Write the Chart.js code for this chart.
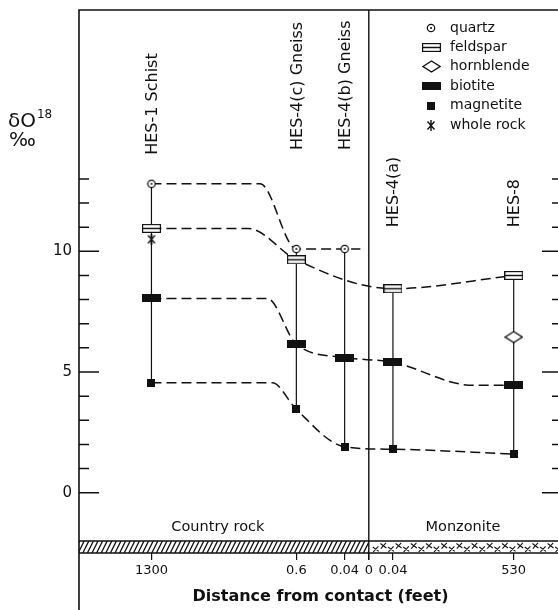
<!DOCTYPE html>
<html>
<head>
<meta charset="utf-8">
<script src="https://cdn.jsdelivr.net/npm/chart.js@4/dist/chart.umd.min.js"></script>
<style>
  html, body { margin: 0; padding: 0; background: #fff; overflow: hidden; }
  #wrap { width: 558px; height: 610px; overflow: hidden; }
  canvas { display: block; }
</style>
</head>
<body>
<div id="wrap"><canvas id="isotopeChart" width="566" height="610"></canvas></div>
<script>
// Samples and their (schematic) position along the distance axis, contact = 0
const sampleNames = ['HES-1 Schist', 'HES-4(c) Gneiss', 'HES-4(b) Gneiss', 'HES-4(a)', 'HES-8'];
const samplePos = [-9, -3, -1, 1, 6];

// Distance tick labels (feet from contact)
const distTicks = [-9, -3, -1, 0, 1, 6];
const distLabels = ['1300', '0.6', '0.04', '0', '0.04', '530'];

// delta O18 per mineral, one value per sample (null = not measured)
const quartz     = [12.8, 10.1, 10.1, null, null];
const feldspar   = [10.95, 9.65, null, 8.45, 9.0];
const hornblende = [null, null, null, null, 6.45];
const biotite    = [8.05, 6.15, 5.6, 5.4, 4.45];
const magnetite  = [4.55, 3.45, 1.9, 1.8, 1.6];
const wholeRock  = [10.5, null, null, null, null];

// Dashed trend curves as drawn on the figure
const quartzTrendX    = [-9, -4.5, -3, -1, -0.35];
const quartzTrendY    = [12.8, 12.8, 10.1, 10.1, 10.1];
const feldsparTrendX  = [-9, -5, -3, 1, 6];
const feldsparTrendY  = [10.95, 10.95, 9.65, 8.45, 9.0];
const biotiteTrendX   = [-9, -4.2, -3, -1, 1, 4.3, 6];
const biotiteTrendY   = [8.05, 8.05, 6.15, 5.6, 5.4, 4.45, 4.45];
const magnetiteTrendX = [-9, -4, -3, -1, 1, 6];
const magnetiteTrendY = [4.55, 4.55, 3.45, 1.9, 1.8, 1.6];

const INK = '#111';
const FONT = 'DejaVu Sans';

// small canvases used as point styles
function marker(w, h, draw) {
    const c = document.createElement('canvas');
    c.width = w; c.height = h;
    const g = c.getContext('2d');
    g.strokeStyle = INK; g.fillStyle = INK; g.lineWidth = 1.2;
    draw(g, w, h);
    return c;
}
const mQuartz = marker(10, 10, g => {
    g.beginPath(); g.arc(5, 5, 3.7, 0, Math.PI * 2);
    g.fillStyle = '#fff'; g.fill(); g.stroke();
    g.beginPath(); g.arc(5, 5, 1, 0, Math.PI * 2);
    g.fillStyle = INK; g.fill();
});
const mFeldspar = marker(19, 9, g => {
    g.fillStyle = '#fff'; g.fillRect(0.6, 0.6, 17.8, 7.8);
    g.strokeRect(0.6, 0.6, 17.8, 7.8);
    g.lineWidth = 1.5;
    g.beginPath(); g.moveTo(1, 4.5); g.lineTo(18, 4.5); g.stroke();
});
const mHornblende = marker(19, 13, g => {
    g.lineWidth = 1.4;
    g.beginPath(); g.moveTo(1, 6.5); g.lineTo(9.5, 1); g.lineTo(18, 6.5); g.lineTo(9.5, 12); g.closePath();
    g.fillStyle = '#fff'; g.fill(); g.stroke();
});
const mBiotite = marker(19, 8, g => { g.fillRect(0, 0, 19, 8); });
const mMagnetite = marker(8, 8, g => { g.fillRect(0, 0, 8, 8); });
const mWholeRock = marker(10, 11, g => {
    g.lineWidth = 1.4;
    g.beginPath();
    g.moveTo(1.5, 1.5); g.lineTo(8.5, 9.5);
    g.moveTo(8.5, 1.5); g.lineTo(1.5, 9.5);
    g.moveTo(5, 0); g.lineTo(5, 11);
    g.stroke();
});

const legendItems = [
    ['quartz', mQuartz], ['feldspar', mFeldspar], ['hornblende', mHornblende],
    ['biotite', mBiotite], ['magnetite', mMagnetite], ['whole rock', mWholeRock]
];

const pts = vals => samplePos.map((x, i) => vals[i] == null ? null : { x: x, y: vals[i] }).filter(p => p);
const curve = (xs, ys) => xs.map((x, i) => ({ x: x, y: ys[i] }));

function markerSet(label, vals, img) {
    return { type: 'scatter', label: label, data: pts(vals), pointStyle: img,
             pointRadius: 5, pointHoverRadius: 5, order: 0 };
}
function trendSet(xs, ys) {
    return { type: 'line', data: curve(xs, ys), borderColor: INK, borderWidth: 1.5,
             borderDash: [10, 5], pointRadius: 0, fill: false,
             cubicInterpolationMode: 'monotone', order: 1 };
}

// vertical range line for each sample, from highest to lowest mineral value
const allMinerals = [quartz, feldspar, hornblende, biotite, magnetite, wholeRock];
const rangeSets = samplePos.map((x, i) => {
    const v = allMinerals.map(m => m[i]).filter(n => n != null);
    return { type: 'line', data: [{ x: x, y: Math.min(...v) }, { x: x, y: Math.max(...v) }],
             borderColor: INK, borderWidth: 1.2, pointRadius: 0, order: 2 };
});

// rotated sample labels start at these delta values (bottom of the text)
const labelBaseY = [14.0, 14.2, 14.2, 11.0, 11.0];

const decor = {
    id: 'decor',
    beforeDatasetsDraw(chart) {
        const { ctx, chartArea: a, scales: { x, y } } = chart;
        const bandTop = y.getPixelForValue(-2);
        const x0 = x.getPixelForValue(0);
        ctx.save();
        ctx.strokeStyle = INK;
        // country rock hatching
        ctx.save();
        ctx.beginPath(); ctx.rect(a.left, bandTop, x0 - a.left, a.bottom - bandTop); ctx.clip();
        ctx.lineWidth = 1.3;
        ctx.beginPath();
        for (let xx = a.left - 10; xx < x0 + 10; xx += 4.6) {
            ctx.moveTo(xx, a.bottom); ctx.lineTo(xx + 6, bandTop);
        }
        ctx.stroke();
        ctx.restore();
        // monzonite crosses
        ctx.lineWidth = 1.1;
        ctx.beginPath();
        let i = 0;
        for (let cx = x0 + 7; cx < a.right; cx += 7.6, i++) {
            const cy = bandTop + (i % 2 ? 4.8 : 8.2);
            ctx.moveTo(cx - 3, cy - 2.2); ctx.lineTo(cx + 3, cy + 2.2);
            ctx.moveTo(cx + 2.6, cy - 2.8); ctx.lineTo(cx - 2.6, cy + 2.8);
        }
        ctx.stroke();
        // band borders, contact line
        ctx.lineWidth = 1.4;
        ctx.beginPath();
        ctx.moveTo(a.left, bandTop); ctx.lineTo(a.right, bandTop);
        ctx.moveTo(a.left, a.bottom); ctx.lineTo(a.right, a.bottom);
        ctx.moveTo(x0, a.top); ctx.lineTo(x0, a.bottom + 7);
        ctx.stroke();
        ctx.restore();
    },
    afterDraw(chart) {
        const { ctx, chartArea: a, scales: { x, y } } = chart;
        ctx.save();
        ctx.strokeStyle = INK; ctx.fillStyle = INK;
        // frame
        ctx.lineWidth = 1.6;
        ctx.beginPath();
        ctx.moveTo(a.left, chart.height); ctx.lineTo(a.left, a.top); ctx.lineTo(a.right, a.top);
        ctx.lineTo(a.right, chart.height);
        ctx.stroke();
        // inward ticks on both sides
        ctx.lineWidth = 1.5;
        ctx.beginPath();
        y.ticks.forEach(t => {
            const py = y.getPixelForValue(t.value);
            const len = t.value % 5 === 0 ? 20 : 10;
            ctx.moveTo(a.left, py); ctx.lineTo(a.left + len, py);
            ctx.moveTo(a.right, py); ctx.lineTo(a.right - len, py);
        });
        ctx.stroke();

        // sample labels
        ctx.font = '16px "' + FONT + '"';
        ctx.textAlign = 'left'; ctx.textBaseline = 'middle';
        sampleNames.forEach((name, i) => {
            ctx.save();
            ctx.translate(x.getPixelForValue(samplePos[i]) + 1, y.getPixelForValue(labelBaseY[i]));
            ctx.rotate(-Math.PI / 2);
            ctx.fillText(name, 0, 0);
            ctx.restore();
        });

        // rock type labels
        ctx.font = '14.5px "' + FONT + '"';
        ctx.textAlign = 'center';
        ctx.fillText('Country rock', x.getPixelForValue(-6.25), y.getPixelForValue(-1.45));
        ctx.fillText('Monzonite', x.getPixelForValue(3.9), y.getPixelForValue(-1.45));

        // legend
        ctx.font = '14px "' + FONT + '"';
        ctx.textAlign = 'left';
        const lx = a.right - 131, ly = a.top + 18;
        legendItems.forEach(([label, img], i) => {
            const cy = ly + i * 19.4;
            ctx.drawImage(img, Math.round(lx - img.width / 2), Math.round(cy - img.height / 2));
            ctx.fillText(label, lx + 19, cy);
        });

        // y axis title
        ctx.textAlign = 'left'; ctx.textBaseline = 'alphabetic';
        ctx.font = '20px "' + FONT + '"';
        ctx.fillText('\u03B4O', 8, 127);
        const w = ctx.measureText('\u03B4O').width;
        ctx.font = '12px "' + FONT + '"';
        ctx.fillText('18', 8 + w + 1, 118);
        ctx.font = '20px "' + FONT + '"';
        ctx.fillText('\u2030', 9, 146);
        ctx.restore();
    }
};

Chart.defaults.font.family = FONT;
Chart.defaults.color = INK;

const noPad = s => { s.paddingTop = 0; s.paddingBottom = 0; s.paddingLeft = 0; s.paddingRight = 0; };

const ctx = document.getElementById('isotopeChart').getContext('2d');
const isotopeChart = new Chart(ctx, {
    type: 'scatter',
    data: {
        datasets: [
            markerSet('whole rock', wholeRock, mWholeRock),
            markerSet('quartz', quartz, mQuartz),
            markerSet('feldspar', feldspar, mFeldspar),
            markerSet('hornblende', hornblende, mHornblende),
            markerSet('biotite', biotite, mBiotite),
            markerSet('magnetite', magnetite, mMagnetite),
            trendSet(quartzTrendX, quartzTrendY),
            trendSet(feldsparTrendX, feldsparTrendY),
            trendSet(biotiteTrendX, biotiteTrendY),
            trendSet(magnetiteTrendX, magnetiteTrendY),
            ...rangeSets
        ]
    },
    options: {
        responsive: false,
        animation: false,
        events: [],
        layout: { autoPadding: false, padding: { top: 10, right: 4, left: 0, bottom: 0 } },
        plugins: { legend: { display: false }, tooltip: { enabled: false } },
        scales: {
            x: {
                type: 'linear', min: -12, max: 8,
                afterFit: s => { s.height = 57; noPad(s); },
                afterBuildTicks: s => { s.ticks = distTicks.map(v => ({ value: v })); },
                grid: { display: true, drawOnChartArea: false, drawTicks: true, tickLength: 7, color: INK, lineWidth: 1.2 },
                border: { display: false },
                ticks: {
                    autoSkip: false, maxRotation: 0, padding: 3,
                    font: { size: 13 }, color: INK,
                    callback: (v, i) => distLabels[i]
                },
                title: {
                    display: true, text: 'Distance from contact (feet)',
                    font: { size: 16, weight: 'bold' }, color: INK,
                    padding: { top: 0, bottom: 4 }
                }
            },
            y: {
                type: 'linear', min: -2.5, max: 20,
                afterFit: s => { s.width = 79; noPad(s); },
                afterBuildTicks: s => {
                    const t = [];
                    for (let v = 0; v <= 13; v++) t.push({ value: v });
                    s.ticks = t;
                },
                grid: { display: false, drawTicks: false },
                border: { display: false },
                ticks: {
                    padding: 7, font: { size: 15 }, color: INK,
                    callback: v => (v % 5 === 0 ? String(v) : '')
                }
            }
        }
    },
    plugins: [decor]
});
</script>
</body>
</html>
